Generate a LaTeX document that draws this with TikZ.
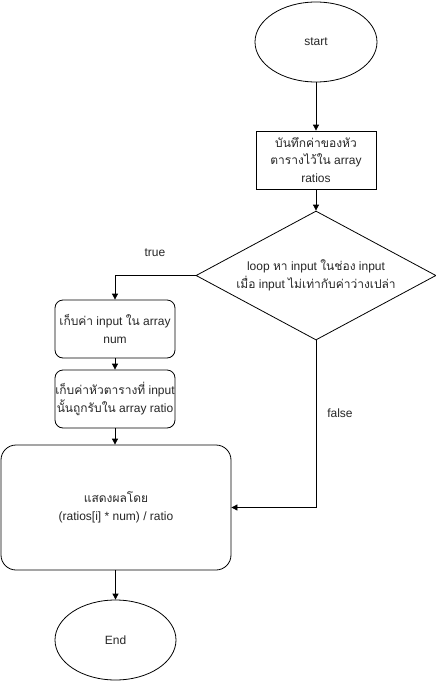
\documentclass[tikz,border=0pt]{standalone}
\usepackage{fontspec}
\setmainfont{Liberation Sans}
\newfontfamily\thaifont[Script=Thai]{Loma}
\newcommand{\thx}[1]{{\thaifont #1}}
\usetikzlibrary{shapes.geometric,arrows.meta}
\begin{document}
\begin{tikzpicture}[x=1pt,y=-1pt,
  every node/.style={font=\fontsize{12}{17.5}\selectfont, align=center, text=black!85},
  box/.style={draw, line width=0.8pt, minimum width=120pt, minimum height=58pt, inner sep=0pt},
  rbox/.style={box, rounded corners=8pt},
  oval/.style={draw, line width=0.8pt, ellipse, minimum width=122pt, minimum height=80pt, inner sep=0pt},
  dia/.style={draw, line width=0.8pt, diamond, shape aspect=1.86, minimum width=240pt, minimum height=129pt, inner sep=0pt},
  arr/.style={draw, line width=0.8pt, -{Triangle[length=6pt,width=6pt]}},
  lbl/.style={font=\fontsize{12}{14}\selectfont}
]
\useasboundingbox (0,0) rectangle (436,681);
\node[oval] (start) at (316,42) {start};
\node[box] (save) at (316,160) {\thx{บันทึกค่าของหัว}\\\thx{ตารางไว้ใน} array\\ratios};
\node[dia] (loop) at (316,275.5) {loop \thx{หา} input \thx{ในช่อง} input\\\thx{เมื่อ} input \thx{ไม่เท่ากับค่าว่างเปล่า}};
\node[rbox] (num) at (115,329) {\thx{เก็บค่า} input \thx{ใน} array\\num};
\node[rbox] (ratio) at (115,399) {\thx{เก็บค่าหัวตารางที่} input\\\thx{นั้นถูกรับใน} array ratio};
\node[box, rounded corners=15pt, minimum width=230pt, minimum height=125pt] (show) at (116,507.5) {\thx{แสดงผลโดย}\\(ratios[i] * num) / ratio};
\node[oval, minimum width=121pt] (end) at (115.5,640) {End};
\draw[arr] (start) -- (save);
\draw[arr] (save) -- (loop);
\draw[arr] (loop.west) -| (num.north);
\draw[arr] (loop.south) |- (show.east);
\draw[arr] (num) -- (ratio);
\draw[arr] (ratio) -- (show.north -| ratio.south);
\draw[arr] (show.south -| end.north) -- (end);
\node[lbl] (t) at (155,253) {true};
\node[lbl] (f) at (340,413) {false};
\end{tikzpicture}
\end{document}
